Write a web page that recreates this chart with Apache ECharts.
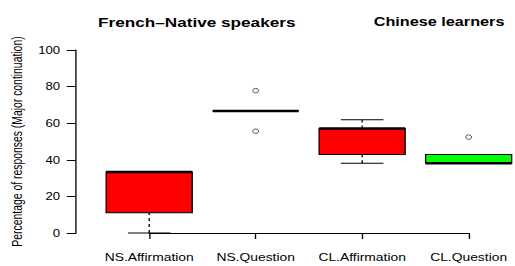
<!DOCTYPE html>
<html>
<head>
<meta charset="utf-8">
<script src="https://cdn.jsdelivr.net/npm/echarts@6/dist/echarts.min.js"></script>
<style>
  html, body { margin: 0; padding: 0; background: #fff; overflow: hidden; }
  /* the reference picture is stretched sideways, so draw narrow and widen */
  #main { width: 390px; height: 266px; transform: scaleX(1.3205); transform-origin: 0 0; }
</style>
</head>
<body>
<div id="main"></div>
<script>
var categories = ['NS.Affirmation', 'NS.Question', 'CL.Affirmation', 'CL.Question'];
var lowWhisker = [0, 66.7, 38.1, 38.1];
var lowerQuart = [11.1, 66.7, 42.9, 38.1];
var medians = [33.3, 66.7, 57.1, 38.1];
var upperQuart = [33.3, 66.7, 57.1, 42.9];
var highWhisker = [33.3, 66.7, 61.9, 42.9];
var boxColors = ['#ff0000', '#ff0000', '#ff0000', '#00ff00'];
var outliers = [[2, 77.8], [2, 55.6], [4, 52.4]];
var yTicks = [0, 20, 40, 60, 80, 100];

var font = "'Liberation Sans', Arial, Helvetica, sans-serif";

var boxData = categories.map(function (c, i) {
  return [i + 1, lowWhisker[i], lowerQuart[i], medians[i], upperQuart[i], highWhisker[i]];
});

function renderBox(params, api) {
  var x = api.value(0);
  var lo = api.coord([x, api.value(1)]);
  var q1 = api.coord([x, api.value(2)]);
  var md = api.coord([x, api.value(3)]);
  var q3 = api.coord([x, api.value(4)]);
  var hi = api.coord([x, api.value(5)]);
  var half = api.size([0.404, 0])[0];
  var cap = api.size([0.2, 0])[0];
  var cx = lo[0];
  var kids = [];
  var dash = { stroke: '#000', lineWidth: 1, lineDash: [3, 3] };
  var solid = { stroke: '#000', lineWidth: 1 };
  if (lo[1] - q1[1] > 0.5) {
    kids.push({ type: 'line', shape: { x1: cx, y1: lo[1], x2: cx, y2: q1[1] }, style: dash });
  }
  if (q3[1] - hi[1] > 0.5) {
    kids.push({ type: 'line', shape: { x1: cx, y1: q3[1], x2: cx, y2: hi[1] }, style: dash });
  }
  kids.push({ type: 'line', shape: { x1: cx - cap, y1: lo[1], x2: cx + cap, y2: lo[1] }, style: solid });
  kids.push({ type: 'line', shape: { x1: cx - cap, y1: hi[1], x2: cx + cap, y2: hi[1] }, style: solid });
  kids.push({
    type: 'rect',
    shape: { x: cx - half, y: q3[1], width: half * 2, height: q1[1] - q3[1] },
    style: { fill: boxColors[params.dataIndex], stroke: '#000', lineWidth: 1 }
  });
  kids.push({ type: 'line', shape: { x1: cx - half, y1: md[1], x2: cx + half, y2: md[1] }, style: { stroke: '#000', lineWidth: 2.5 } });
  return { type: 'group', children: kids };
}

var chart = echarts.init(document.getElementById('main'), null, { renderer: 'svg' });
chart.setOption({
  animation: false,
  backgroundColor: '#fff',
  title: [
    { text: 'French\u2013Native speakers', left: 144, top: 11, textAlign: 'center',
      textStyle: { fontFamily: font, fontSize: 13, fontWeight: 'bold', color: '#000' } },
    { text: 'Chinese learners', left: 327.5, top: 11, textAlign: 'center',
      textStyle: { fontFamily: font, fontSize: 12.3, fontWeight: 'bold', color: '#000' } }
  ],
  grid: { left: 107.3, top: 50, width: 247.6, height: 183 },
  xAxis: {
    type: 'value', min: 1, max: 4, interval: 1, offset: 7,
    axisLine: { show: true, lineStyle: { color: '#000', width: 1 } },
    axisTick: { show: true, length: 6, lineStyle: { color: '#000' } },
    axisLabel: {
      margin: 12, color: '#000', fontFamily: font, fontSize: 10.5,
      formatter: function (v) { return categories[v - 1] || ''; }
    },
    splitLine: { show: false }
  },
  yAxis: {
    type: 'value', min: yTicks[0], max: yTicks[yTicks.length - 1], interval: 20, offset: 55.4,
    name: 'Percentage of responses (Major continuation)',
    nameLocation: 'middle', nameRotate: 90, nameGap: 28,
    nameTextStyle: { fontFamily: font, fontSize: 10.4, color: '#000' },
    axisLine: { show: true, lineStyle: { color: '#000', width: 1 } },
    axisTick: { show: true, length: 7, lineStyle: { color: '#000' } },
    axisLabel: { margin: 12, color: '#000', fontFamily: font, fontSize: 10 },
    splitLine: { show: false }
  },
  series: [
    {
      type: 'custom',
      renderItem: renderBox,
      encode: { x: 0, y: [1, 2, 3, 4, 5] },
      data: boxData,
      clip: false,
      silent: true
    },
    {
      type: 'scatter',
      data: outliers,
      symbol: 'circle',
      symbolSize: 4.5,
      itemStyle: { color: '#fff', borderColor: '#000', borderWidth: 0.7 },
      clip: false,
      silent: true
    }
  ]
});
</script>
</body>
</html>
